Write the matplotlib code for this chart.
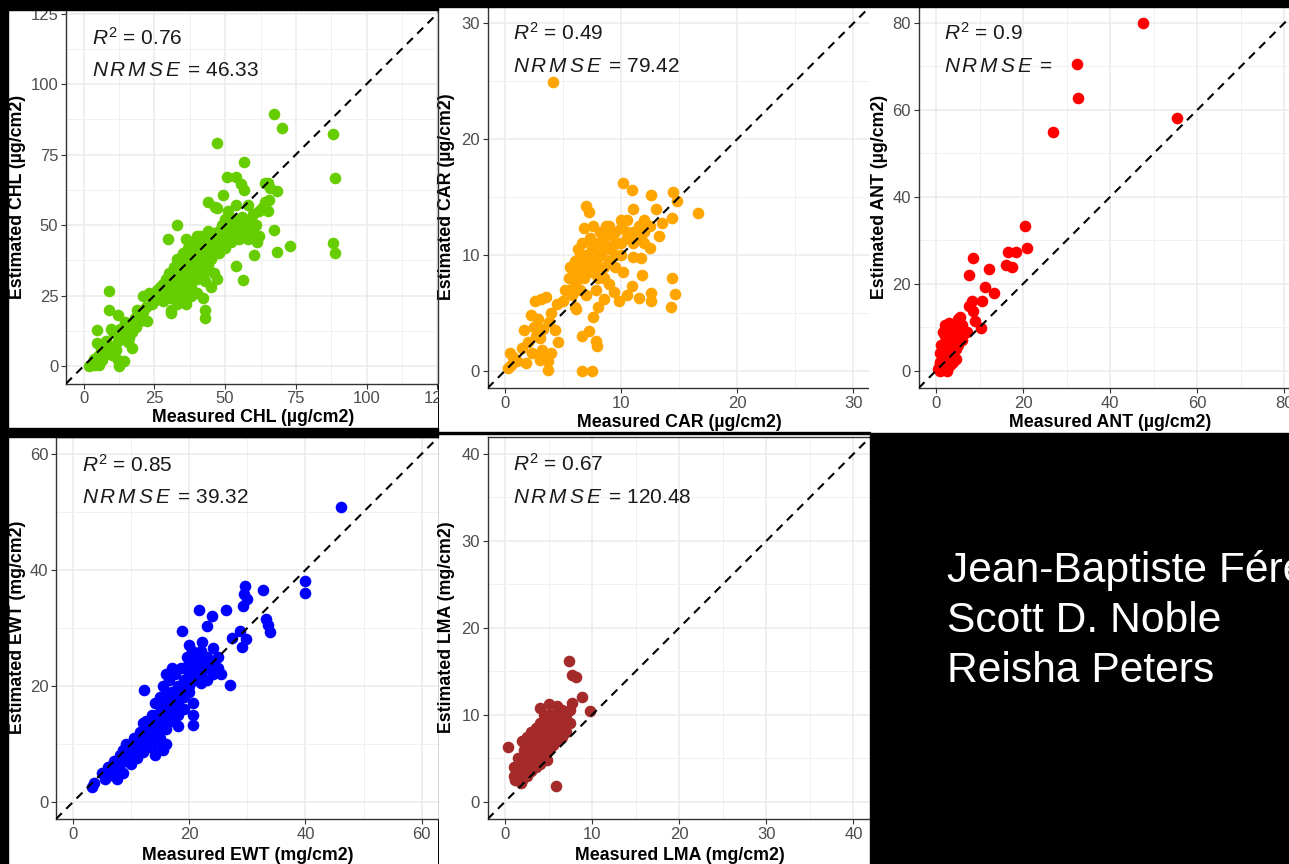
import matplotlib
matplotlib.use("Agg")
import matplotlib.pyplot as plt
from matplotlib.patches import Rectangle
from matplotlib.lines import Line2D

plt.rcParams['font.family'] = ['Liberation Sans', 'DejaVu Sans']
plt.rcParams['mathtext.fontset'] = 'custom'
plt.rcParams['mathtext.rm'] = 'Liberation Sans'
plt.rcParams['mathtext.it'] = 'Liberation Sans:italic'

W, H = 1289, 864

# measured, estimated values
chl = [(2.0,0.0),(3.0,0.5),(4.0,0.2),(5.5,0.5),(6.5,2.0),(3.5,2.5),(5.0,3.5),(4.6,12.8),(4.6,8.0),
       (9.0,26.6),(9.0,20.0),(12.2,18.0),(9.5,13.0),(10.5,12.0),(8.0,9.0),(9.0,6.0),(10.0,4.0),
       (12.0,9.0),(13.0,11.0),(12.0,2.0),(12.6,0.1),(14.3,1.8),(11.0,7.0),(14.0,10.0),(15.0,13.0),
       (16.0,15.0),(17.0,12.0),(16.0,10.0),(17.2,6.3),(18.0,17.0),(18.5,14.0),(20.0,16.0),(19.0,20.0),
       (21.0,19.0),(22.0,21.0),(22.5,16.1),(13.0,13.0),(14.5,15.5),(15.5,8.5),(11.5,5.5),(7.0,4.0),
       (6.0,6.0),
       (21,25),(23,26),(24,24),(25,23),(26,27),(27,25),(28,29),(28,23),(29,31),(30,28),(30,33),
       (30,24),(30.8,18.7),(31,20),(32,30),(32,35),(32,26),(33,32),(33,38),(34,28),(34,36),(35,33),
       (35,40),(35,24),(36,30),(36,38),(36,45),(37,35),(37,42),(38,32),(38,40),(38,28),(39,37),
       (39,44),(40,34),(40,42),(40,26),(41,39),(41,46),(42,36),(42,44),(42,24),(43,40),(43,30),
       (43,19.9),(43,17),(44,43),(44,34),(45,46),(45,38),(45,28),(29.9,45),(32.9,50),(33,22),
       (36,22),(38,25),(40,31),(44,48),(46,42),(46,33),(47,31),
       (34,30),(35,35),(36,33),(37,38),(38,36),(39,40),(40,38),(41,42),(42,40),(43,44),(44,40),
       (45,42),(31,28),(33,29),(34,32),(36,35),(37,30),(39,33),(27,28),(29,27),(31,31),(26,24),
       (24,22),(42,32),(44,36),(47,40),(49,44),(51,46),(53,48),(56,48),(59,49),(48,46),(52,47),
       (38,44),(40,46),(35,27),(33,25),(41,35),
       (46,47),(47,44),(48,48),(48,40),(49,50),(50,46),(50,52),(51,48),(52,50),(53,52),(54,49),
       (55,51),(56,53),(57,48),(58,50),(59,52),(60,54),(61,50),(62,55),(63,56),(64,58),(65,55),
       (50,42),(52,44),(55,45),(58,45),(60,47),(62,46),(47.3,79.1),(56.5,72.4),(50.8,67.2),
       (53.7,67),(55.5,64.5),(56.5,62.5),(49.2,60.5),(44,58.1),(46.3,56.5),(65.5,58.9),(65,65),
       (68.5,62),(67.3,48.3),(68.5,40.6),(72.9,42.6),(53.7,35.3),(56.2,30.5),(60.2,39.4),
       (61.4,44),(67.3,89.4),(70.2,84.4),(88.2,82.3),(88.9,66.6),(88.2,43.6),(88.9,40.0),
       (47,56),(51,55),(54,57),(58,57),(66,63),(64,65)]

car = [(0.3,0.2),(0.5,0.5),(0.7,1.2),(0.4,1.5),(1.0,0.8),(1.6,3.5),(1.5,2.0),(1.8,0.7),(2.0,2.5),
       (2.3,1.5),(2.5,3.8),(2.6,6.0),(3.1,6.2),(3.5,6.4),(2.8,4.5),(3.0,2.8),(3.2,1.8),(3.5,1.2),
       (3.7,0.8),(3.7,0.05),(3.0,0.9),(3.3,3.6),(3.8,4.2),(4.3,3.5),(4.6,2.5),(4.0,5.0),(4.5,5.8),
       (2.2,4.8),(2.7,3.0),(6.6,0.0),(7.5,0.0),(6.6,3.0),(7.2,3.4),(7.9,2.1),(7.8,2.6),(7.6,4.6),
       (6.1,5.3),(4.0,1.5),
       (5.0,6.0),(5.2,7.0),(5.5,8.0),(5.6,9.0),(5.8,6.5),(6.0,7.5),(6.0,9.5),(6.2,8.5),(6.3,10.5),
       (6.5,7.0),(6.5,9.0),(6.6,11.0),(6.8,8.0),(6.8,12.3),(7.0,10.0),(7.0,14.2),(7.2,13.7),
       (7.0,6.5),(7.2,9.0),(7.3,11.5),(7.5,8.5),(7.5,10.5),(7.6,12.5),(7.8,9.5),(7.8,7.0),
       (8.0,11.0),(8.0,8.0),(8.2,12.0),(8.3,10.0),(8.5,9.0),(8.5,11.5),(8.5,6.2),(8.7,12.5),
       (8.8,10.5),(9.0,9.5),(9.0,11.8),(9.0,7.5),(9.2,10.8),(9.4,6.8),(9.5,12.0),(9.5,9.0),
       (9.7,11.0),(10.0,12.3),(10.0,10.0),(10.2,8.5),(10.2,16.2),(10.5,11.5),(10.5,13.0),
       (10.9,15.6),(10.9,7.3),(11.0,12.0),(11.0,9.8),(11.5,12.5),(11.5,6.3),(11.7,9.7),(11.8,8.3),
       (12.0,13.0),(12.0,11.0),(12.5,10.6),(12.5,12.5),(12.6,15.2),(12.6,6.7),(12.6,6.0),
       (13.0,14.0),(13.3,11.6),(13.5,12.8),(14.4,13.2),(14.5,15.4),(14.8,14.7),(14.4,8.0),
       (14.6,6.6),(14.3,5.5),(16.6,13.6),(4.16,24.9),(6.0,5.5),(9.8,6.0),(10.5,6.5),(8.0,5.5),
       (11.0,14.0),
       (6.5,8.0),(7.0,8.5),(7.5,9.5),(8.0,10.0),(8.5,10.5),(9.0,10.5),(9.5,11.0),(10.0,11.0),
       (10.5,12.0),(8.0,9.0),(7.0,9.5),(6.0,8.0),(9.0,12.5),(10.0,13.0),(11.0,11.0),(6.5,10.0),
       (7.5,11.0),(8.5,8.0),(9.5,10.0),(5.5,7.0),(11.5,11.5),(12.0,12.0)]

ant = [(0.5,0.5),(1,0),(1.5,1),(2,0.5),(2.5,0),(3,1),(1,2),(1.5,3),(2,2),(2.5,3.5),(3,2.5),
       (3.5,1.5),(4,2),(1,4),(1.5,5),(2,6),(2.5,5),(3,4),(3.5,5.5),(4,4),(2,8),(2.5,9),(3,10),
       (3,7),(3.5,8),(4,9),(4,6),(4.5,7),(5,10),(5,6),(5.5,8),(6,9),(1.5,9),(2,10.5),(3,11),
       (4.7,2.8),(5.1,9.3),(5.4,12.4),(5,12),(6,7),(7,9),(0.8,1.5),(1.2,6),
       (1,1),(2,1.5),(2.5,2),(3,3),(3.5,3),(1.5,2),(2,4),(3,5.5),(4,7.5),(4.5,5),(5,7),(2.5,7),
       (3.5,10),(4.5,11),(6,10.5),
       (47.5,80.0),(32.4,70.5),(32.6,62.8),(26.9,54.9),(55.4,58.1),(20.4,33.3),(21.0,28.3),
       (16.6,27.4),(18.3,27.4),(16.0,24.4),(17.4,23.9),(8.6,25.9),(7.6,22.1),(12.2,23.5),
       (11.2,19.3),(13.3,17.8),(10.6,16.1),(8.3,16.1),(8.6,13.8),(7.5,15.0),(9.0,11.5),(10.3,9.8)]

ewt = [(3.3,2.6),(3.5,3.2),(5,5),(5.5,4),(6,6),(6,4.5),(6.5,5.5),(7,7),(7,5),(7.5,6),(7.5,4),
       (8,8),(8,6.5),(8.5,5),(8.5,9),(9,7),(9,10),(9.5,8),(10,9),(10,6.5),(10.5,11),(10.5,8),
       (11,10),(11,7.5),(11.5,12),(11.5,9),(12,11),(12,13.5),(12,8.5),(12.5,10),(12.5,14),(13,12),
       (13,9.5),(13.5,15),(13.5,11),(14,13),(14,17),(14,10),(14.5,15),(14.5,12),(15,14),(15,18),
       (15,11),(15.5,16),(15.5,13),(15.5,20),(16,15),(16,19),(16,12.5),(16.5,17),(16.5,21),(17,16),
       (17,19),(17,14),(17.5,18),(17.5,22),(18,17),(18,20),(18,15),(18.5,19),(18.5,23),(19,18),
       (19,21),(19.5,20),(19.5,25),(20,22),(20,19),(20.5,24),(20.5,26),(21,23),(21,21),(21.5,25),
       (22,24),(22,20.5),(23,23),(23,25),(24,22),(24,24),(25,25),(25,23),(25.5,22),(20.6,17.0),
       (20.6,15),(20.6,13.2),(15.5,8.9),(12.1,19.3),(19,16),(18,13),(16,10),(14,8),(27.0,20.1),
       (13,11),(14,12),(15,13),(16,14),(17,15),(18,16),(16,17),(17,17.5),(18,18.5),(19,19.5),
       (20,20),(21,22),(14,14),(15,15.5),(13,13),(12,10),(11,9),(10,8),(9,8.5),(8,7),(7,6),(6,5),
       (19,23),(20,24),(22,22),(23,21),(21,25),
       (26.3,33.0),(21.7,33.1),(23.9,32.1),(23.1,30.3),(18.8,29.5),(22.1,27.6),(24.1,26.5),
       (27.3,28.3),(28.8,29.4),(29.8,28.0),(29.0,26.7),(29.6,37.2),(29.4,35.9),(29.9,35.0),
       (29.2,33.8),(32.7,36.5),(33.2,31.6),(33.9,29.3),(33.5,30.5),(39.9,38.0),(39.9,36.0),
       (46.1,50.9),(20,27),(22,26),(17,23),(16,22)]

lma = [(0.3,6.3),(1,3),(1.2,2.5),(1.5,4),(1.5,3),(1.8,2.2),(1,4),(2,5),(2,3.5),(2,2.5),(2,7),
       (2.5,4.5),(2.5,6),(2.5,3),(2.5,7.5),(3,5),(3,3.5),(3,7),(3,8),(3.5,4.5),(3.5,6),(3.5,4),
       (3.5,8.5),(4,5),(4,7),(4,9),(4,10.8),(4.5,5.5),(4.5,6.5),(4.5,8),(4.5,10),(5,6),(5,7.5),
       (5,9),(5,11.2),(5.5,6.5),(5.5,8),(5.5,10),(6,7),(6,9),(6,11),(6.5,7.5),(6.5,9.5),(7,8),
       (7,10),(7.5,9),(7.7,11.3),(7.4,16.2),(7.7,14.6),(8.2,14.4),(8.8,12.1),(9.8,10.4),(5.8,1.8),
       (3,6),(4,6),(2.2,6),(1.5,5),(6.5,10.5),(7,9),(4.8,4.8),
       (3,4.5),(3.5,5),(4,5.5),(4.5,6),(5,6.5),(5.5,7),(6,7.5),(6.5,8.5),(6,10),(5,10),(4.5,9),
       (4,8),(3.5,7),(3,6.5),(2.5,5.5),(2,4.5),(1.5,3.5),(5.5,9),(6.5,9),(7,9.5),(4,4.3),(2,3),
       (7.5,10.5)]

names = ["CHL", "CAR", "ANT", "EWT", "LMA"]
units = ["µg/cm2", "µg/cm2", "µg/cm2", "mg/cm2", "mg/cm2"]
r2 = ["0.76", "0.49", "0.9", "0.85", "0.67"]
nrmse = ["46.33", "79.42", "", "39.32", "120.48"]
tick_max = [125, 30, 80, 60, 40]
tick_step = [25, 10, 20, 20, 10]
colors = ["#66CD00", "#FFA500", "#FF0000", "#0000FF", "#A52A2A"]
authors = ["Jean-Baptiste Féret", "Scott D. Noble", "Reisha Peters"]

# layout in pixels: white card (l, t, r, b), plot area (l, t, r, b)
cards = [(8, 10, 438, 428), (439, 7, 870, 432), (869, 7, 1289, 433),
         (8, 437, 438, 864), (439, 434, 870, 864)]
areas = [(66, -4, 455, 383.6), (487.6, 6.0, 870.7, 388.1), (918.6, 5.6, 1301.8, 388.1),
         (55.9, 436.6, 439.0, 819.1), (487.6, 436.6, 870.8, 819.1)]
xlab_pos = [(253, 418), (679, 423), (1110, 423), (247.5, 855), (679.5, 855)]
ylab_pos = [(17.5, 197), (447, 197), (879, 197), (17.5, 627), (447, 627)]
note_pos = [(92, 45, 76), (513, 40, 71.7), (944, 40, 72), (82, 471.7, 503.3), (513, 471, 502.7)]


def frac(l, t, r, b):
    return [l / W, 1 - b / H, (r - l) / W, (b - t) / H]


fig = plt.figure(figsize=(W / 100, H / 100), dpi=100, facecolor="black")

data = [chl, car, ant, ewt, lma]
for i in range(5):
    card = fig.add_axes(frac(*cards[i]), zorder=2 * i + 1)
    card.set_facecolor("white")
    card.set_xticks([])
    card.set_yticks([])
    for s in card.spines.values():
        s.set_visible(False)

    ax = fig.add_axes(frac(*areas[i]), zorder=2 * i + 2)
    m = tick_max[i]
    pad = m * 0.05
    ax.set_xlim(-pad, m + pad)
    ax.set_ylim(-pad, m + pad)
    ticks = list(range(0, m + 1, tick_step[i]))
    ax.set_xticks(ticks)
    ax.set_yticks(ticks)
    minor = [t + tick_step[i] / 2 for t in ticks[:-1]]
    ax.set_xticks(minor, minor=True)
    ax.set_yticks(minor, minor=True)
    ax.grid(True, which="major", color="#EBEBEB", lw=1.1)
    ax.grid(True, which="minor", color="#F0F0F0", lw=0.7)
    ax.set_axisbelow(True)
    ax.tick_params(which="major", direction="out", length=3.5, width=0.8, color="#333333",
                   labelsize=12, labelcolor="#4D4D4D", pad=2)
    ax.tick_params(which="minor", length=0)
    for s in ax.spines.values():
        s.set_color("#333333")
        s.set_linewidth(1.0)

    xs = [p[0] for p in data[i]]
    ys = [p[1] for p in data[i]]
    ax.scatter(xs, ys, s=70, color=colors[i], linewidths=0, zorder=3)
    ax.axline((0, 0), slope=1, color="black", lw=1.5, dashes=(4, 3), zorder=4)

    z = 2 * i + 2.5
    fig.text(xlab_pos[i][0] / W, 1 - xlab_pos[i][1] / H, "Measured %s (%s)" % (names[i], units[i]),
             ha="center", va="center", fontsize=12.8, fontweight="bold", zorder=z)
    fig.text(ylab_pos[i][0] / W, 1 - ylab_pos[i][1] / H, "Estimated %s (%s)" % (names[i], units[i]),
             ha="center", va="center", rotation=90, fontsize=12.8, fontweight="bold", zorder=z)
    nx, ny1, ny2 = note_pos[i]
    fig.text(nx / W, 1 - ny1 / H, r"$R^2$ = " + r2[i], ha="left", va="baseline",
             fontsize=15, color="#1A1A1A", zorder=z)
    fig.text(nx / W, 1 - ny2 / H, r"$N\,R\,M\,S\,E\,$ = " + nrmse[i], ha="left", va="baseline",
             fontsize=15, color="#1A1A1A", zorder=z)

# thin border where the first card is cut off
fig.add_artist(Line2D([438 / W, 438 / W], [1 - 10 / H, 1 - 383 / H], color="#333333", lw=1, zorder=50))

# black slide areas around the cards
black = [(0, 0, 438, 10), (438, 0, 1289, 7), (0, 0, 8, 864), (0, 428, 438, 437),
         (438, 432, 870, 434), (870, 433, 1289, 864)]
for l, t, r, b in black:
    fig.add_artist(Rectangle((l / W, 1 - b / H), (r - l) / W, (b - t) / H,
                             transform=fig.transFigure, color="black", zorder=100))

for k, baseline in enumerate([581.7, 631.7, 682.3]):
    fig.text(947 / W, 1 - baseline / H, authors[k], color="white", fontsize=30.7,
             ha="left", va="baseline", zorder=101)

fig.savefig("out.png", dpi=100, facecolor="black")
